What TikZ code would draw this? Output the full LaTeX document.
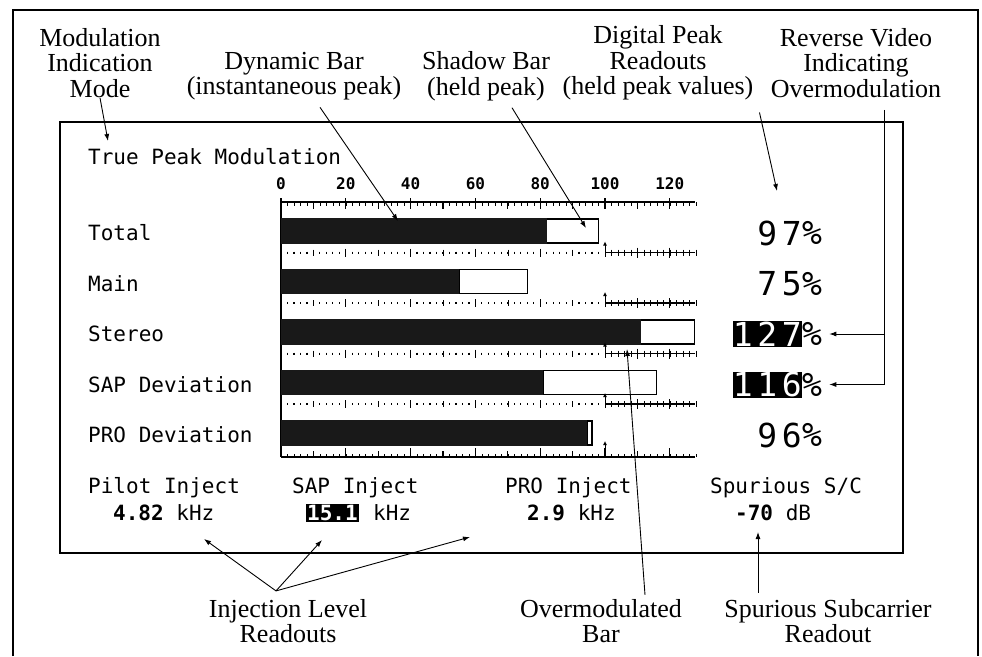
\documentclass[tikz,border=0pt]{standalone}
\usepackage{fontspec}
\setmainfont{Liberation Serif}
\newfontfamily\scr{DejaVu Sans Mono}
\newfontfamily\scrbig[LetterSpace=14]{DejaVu Sans Mono}
\usetikzlibrary{positioning, arrows.meta, calc}

\begin{document}
\begin{tikzpicture}[
  x=1pt, y=-1pt,
  >={Latex[length=7pt,width=5pt]},
  note/.style={align=center, font=\fontsize{26}{25.5}\selectfont, inner sep=0pt},
  screen/.style={font=\fontsize{21}{21}\scr, anchor=west, inner sep=0pt},
  scalenum/.style={font=\fontsize{16}{16}\scr\bfseries, inner sep=0pt},
  readout/.style={font=\fontsize{33}{33}\scrbig, inner sep=0pt, minimum height=26pt},
  plainvid/.style={},
  revvideo/.style={fill=black, text=white},
  dynbar/.style={fill=black!90},
  heldbar/.style={fill=white, draw=black, line width=1.2pt},
  pointer/.style={->, line width=0.9pt},
  tickarrow/.style={-{Latex[length=4pt,width=4pt]}, line width=0.8pt},
  heavy/.style={line width=1.2pt}
]
\useasboundingbox (0,0) rectangle (982,656);
% outer frame and screen
\draw[heavy] (13,656) -- (13,10) -- (978,10) -- (978,656);
\draw[line width=2pt] (60,122) rectangle (903,553);
\node[screen] (mode) at (88,157) {True Peak Modulation};

% top scale
\draw[heavy] (281,202) -- (695,202);
\foreach \v in {2,4,...,128} \draw ({281+3.24*\v},202) -- ++(0,4);
\foreach \v in {10,30,...,110} \draw[heavy] ({281+3.24*\v},202) -- ++(0,7);
\foreach \v in {0,20,...,120} {
  \draw[heavy] ({281+3.24*\v},198) -- ++(0,11);
  \node[scalenum] (num-\v) at ({281+3.24*\v},184) {\v};
}
\draw[heavy] (281,198) -- (281,457);

% bars: dynamic (instantaneous) and shadow (held)
\foreach \i/\name/\dyn/\held in {0/Total/82/98, 1/Main/55/76, 2/Stereo/111/127.5,
    3/SAP Deviation/81/116, 4/PRO Deviation/94.5/96} {
  \pgfmathsetmacro{\yc}{231+50.5*\i}
  \node[screen] (row-\i) at (88,\yc+2) {\name};
  \draw[heldbar] ({281+3.24*\dyn},\yc-12) rectangle ({281+3.24*\held},\yc+12);
  \fill[dynbar] (281,\yc-12.6) rectangle ({281+3.24*\dyn},\yc+12.6);
}

% tick rows between bars
\foreach \i in {0,...,3} {
  \pgfmathsetmacro{\yt}{252.5+50.5*\i}
  \foreach \v in {2,4,...,98} \draw[heavy] ({281+3.24*\v},\yt-1) -- ++(0,2);
  \foreach \v in {10,30,...,90} \draw ({281+3.24*\v},\yt-3) -- ++(0,6);
  \foreach \v in {20,40,...,80} \draw[heavy] ({281+3.24*\v},\yt-4) -- ++(0,8);
  \draw[heavy] (605,\yt) -- (695,\yt);
  \foreach \v in {102,104,...,128} \draw ({281+3.24*\v},\yt-3) -- ++(0,6);
  \foreach \v in {110,120} \draw[heavy] ({281+3.24*\v},\yt-5) -- ++(0,10);
  \draw[tickarrow] (605,\yt+4) -- (605,\yt-11);
}
% bottom scale
\draw[heavy] (281,457) -- (695,457);
\foreach \v in {2,4,...,128} \draw ({281+3.24*\v},457) -- ++(0,-3);
\foreach \v in {10,30,...,110} \draw[heavy] ({281+3.24*\v},457) -- ++(0,-6);
\foreach \v in {20,40,...,120} \draw[heavy] ({281+3.24*\v},457) -- ++(0,-9);
\draw[tickarrow] (605,458) -- (605,441);

% digital peak readouts
\foreach \i/\val/\vid in {0/97/plainvid, 1/75/plainvid, 2/127/revvideo,
    3/116/revvideo, 4/96/plainvid} {
  \pgfmathsetmacro{\yc}{233+50.5*\i}
  \node[readout, \vid, anchor=east] (pk-\i) at (802,\yc) {\val};
  \node[readout, anchor=west] (pct-\i) at (802,\yc) {\%};
}

% injection and spurious readouts
\node[screen] (pilot) at (88,488) {Pilot Inject};
\node[screen] (v-pilot) at (113,513) {{\bfseries 4.82} kHz};
\node[screen] (sap) at (292,488) {SAP Inject};
\node[screen, revvideo, inner xsep=1pt, inner ysep=1pt, font=\fontsize{21}{21}\scr\bfseries] (v-sap) at (306,513) {15.1};
\node[screen, right=14pt of v-sap] (u-sap) {kHz};
\node[screen] (pro) at (505,488) {PRO Inject};
\node[screen] (v-pro) at (527,513) {{\bfseries 2.9} kHz};
\node[screen] (spur) at (710,488) {Spurious S/C};
\node[screen] (v-spur) at (735,513) {{\bfseries -70} dB};

% annotations
\node[note] (modelbl) at (100,63) {Modulation\\Indication\\Mode};
\node[note] (dynlbl) at (294,76) {Dynamic Bar\\(instantaneous peak)};
\node[note] (shadowlbl) at (486,76) {Shadow Bar\\(held peak)};
\node[note] (digitlbl) at (658,63) {Digital Peak\\Readouts\\(held peak values)};
\node[note] (revlbl) at (856,63) {Reverse Video\\Indicating\\Overmodulation};
\node[note] (injlbl) at (288,621) {Injection Level\\Readouts};
\node[note] (overlbl) at (601,621) {Overmodulated\\Bar};
\node[note] (spurlbl) at (828,621) {Spurious Subcarrier\\Readout};

\coordinate (modetip) at (108,141);
\coordinate (dyntip) at (398,221);
\coordinate (shtip) at (586,228);
\coordinate (pktip) at (777,191);
\coordinate (rev127) at ($(pct-2.east)+(7,0)$);
\coordinate (rev116) at ($(pct-3.east)+(7,0)$);
\coordinate (revtop) at ($(revlbl.south)+(28,12)$);
\coordinate (injsrc) at ($(injlbl.north)+(-12,-8)$);
\coordinate (inj-a) at (204,539);
\coordinate (inj-b) at (322,540);
\coordinate (inj-c) at (470,537);
\coordinate (overtip) at (627,349);
\coordinate (spurtip) at (758,532);

\draw[pointer] (modelbl.south) -- (modetip);
\draw[pointer] ($(dynlbl.south)+(26,7)$) -- (dyntip);
\draw[pointer] ($(shadowlbl.south)+(26,7)$) -- (shtip);
\draw[pointer] ($(digitlbl.south east)+(6,12)$) -- (pktip);
\draw[pointer] (revtop) |- (rev116);
\draw[pointer] (revtop |- rev127) -- (rev127);
\draw[pointer] (injsrc) -- (inj-a);
\draw[pointer] (injsrc) -- (inj-b);
\draw[pointer] (injsrc) -- (inj-c);
\draw[pointer] ($(overlbl.north)+(44,-4)$) -- (overtip);
\draw[pointer] ($(spurlbl.north)+(-70,-6)$) -- (spurtip);
\end{tikzpicture}
\end{document}
